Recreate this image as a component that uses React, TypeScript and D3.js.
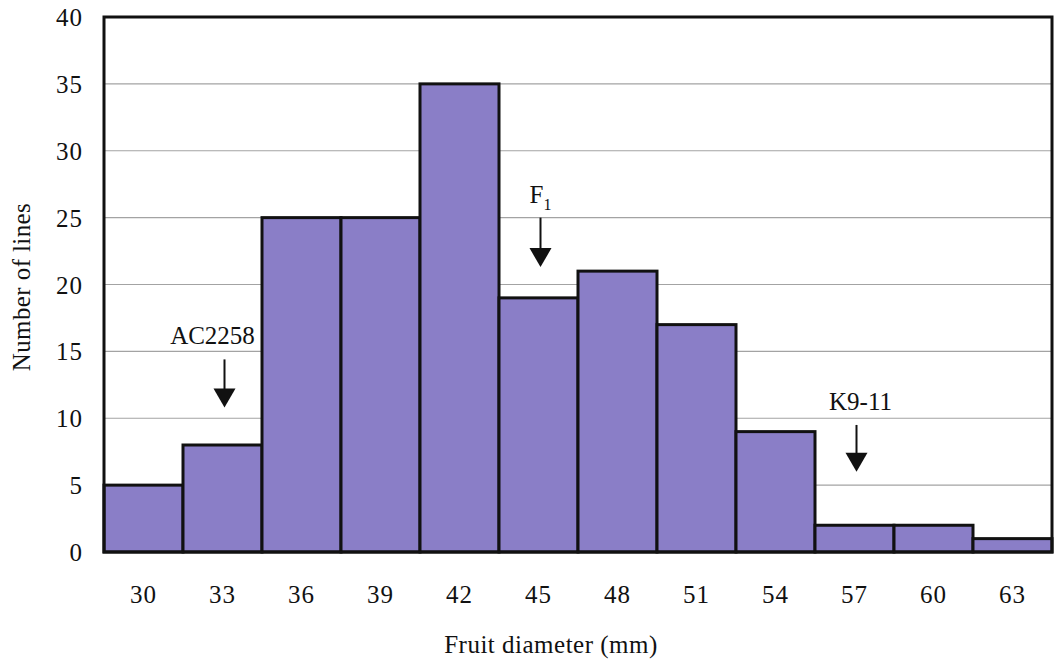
import React, { useEffect, useRef } from 'react';
import * as d3 from 'd3';

// bin centres (mm) and counts
const categories = ['30', '33', '36', '39', '42', '45', '48', '51', '54', '57', '60', '63'];
const counts = [5, 8, 25, 25, 35, 19, 21, 17, 9, 2, 2, 1];
const yTicks = [0, 5, 10, 15, 20, 25, 30, 35, 40];

// markers: label, bin, arrow top value, arrow tip value
const markerLabels = ['AC2258', 'F', 'K9-11'];
const markerBins = ['33', '45', '57'];
const markerTop = [14.4, 25, 9.5];
const markerTip = [10.8, 21.3, 6.0];
const markerShift = [-12, 0, 4]; // label offset from arrow, px

const App = () => {
    const svgRef = useRef(null);

    useEffect(() => {
        const width = 1058;
        const height = 663;
        const margin = { top: 17, right: 6, bottom: 111, left: 104 };
        const svg = d3.select(svgRef.current);
        svg.selectAll('*').remove();
        const font = '"Liberation Serif", "Times New Roman", serif';

        const x = d3.scaleBand().domain(categories).range([margin.left, width - margin.right]).padding(0);
        const y = d3.scaleLinear().domain([0, 40]).range([height - margin.bottom, margin.top]);

        svg.append('rect').attr('width', width).attr('height', height).attr('fill', 'white');

        // gridlines
        svg.append('g')
            .selectAll('line')
            .data(yTicks.filter(t => t > 0 && t < 40))
            .join('line')
            .attr('x1', margin.left)
            .attr('x2', width - margin.right)
            .attr('y1', d => y(d))
            .attr('y2', d => y(d))
            .attr('stroke', '#a3a3a3')
            .attr('stroke-width', 1.2);

        // bars
        svg.append('g')
            .selectAll('rect')
            .data(counts)
            .join('rect')
            .attr('x', (d, i) => x(categories[i]))
            .attr('y', d => y(d))
            .attr('width', x.bandwidth())
            .attr('height', d => y(0) - y(d))
            .attr('fill', '#8a7ec7')
            .attr('stroke', '#111')
            .attr('stroke-width', 3);

        // frame
        svg.append('rect')
            .attr('x', margin.left)
            .attr('y', margin.top)
            .attr('width', width - margin.left - margin.right)
            .attr('height', y(0) - margin.top)
            .attr('fill', 'none')
            .attr('stroke', '#111')
            .attr('stroke-width', 3);

        // y tick labels
        svg.append('g')
            .selectAll('text')
            .data(yTicks)
            .join('text')
            .attr('x', 83)
            .attr('y', d => y(d) + 9)
            .attr('text-anchor', 'end')
            .attr('font-family', font)
            .attr('font-size', 25)
            .attr('letter-spacing', 1)
            .attr('fill', '#111')
            .text(d => d);

        // x tick labels
        svg.append('g')
            .selectAll('text')
            .data(categories)
            .join('text')
            .attr('x', d => x(d) + x.bandwidth() / 2)
            .attr('y', 603)
            .attr('text-anchor', 'middle')
            .attr('font-family', font)
            .attr('font-size', 25)
            .attr('letter-spacing', 1)
            .attr('fill', '#111')
            .text(d => d);

        // axis titles
        svg.append('text')
            .attr('x', 551)
            .attr('y', 653)
            .attr('text-anchor', 'middle')
            .attr('font-family', font)
            .attr('font-size', 25)
            .attr('letter-spacing', 0.5)
            .attr('fill', '#111')
            .text('Fruit diameter (mm)');

        svg.append('text')
            .attr('transform', 'translate(30,287) rotate(-90)')
            .attr('text-anchor', 'middle')
            .attr('font-family', font)
            .attr('font-size', 25)
            .attr('letter-spacing', 0.4)
            .attr('fill', '#111')
            .text('Number of lines');

        // marker arrows
        const mk = svg.append('g');
        markerLabels.forEach((lab, i) => {
            const cx = x(markerBins[i]) + x.bandwidth() / 2 + 2;
            const y0 = y(markerTop[i]);
            const y1 = y(markerTip[i]);
            mk.append('line')
                .attr('x1', cx).attr('x2', cx)
                .attr('y1', y0).attr('y2', y1 - 16)
                .attr('stroke', '#111').attr('stroke-width', 2);
            mk.append('path')
                .attr('d', `M${cx - 11},${y1 - 19} L${cx + 11},${y1 - 19} L${cx},${y1} Z`)
                .attr('fill', '#111');
            const t = mk.append('text')
                .attr('x', cx + markerShift[i])
                .attr('y', y0 - 15)
                .attr('text-anchor', 'middle')
                .attr('font-family', font)
                .attr('font-size', 25)
                .attr('fill', '#111')
                .text(lab);
            if (lab === 'F') {
                t.append('tspan').attr('font-size', 16).attr('dy', 7).text('1');
            }
        });
    }, []);

    return (
        <svg ref={svgRef} width={1058} height={663} style={{ display: 'block', position: 'absolute', left: 0, top: 0 }} />
    );
};

export default App;
